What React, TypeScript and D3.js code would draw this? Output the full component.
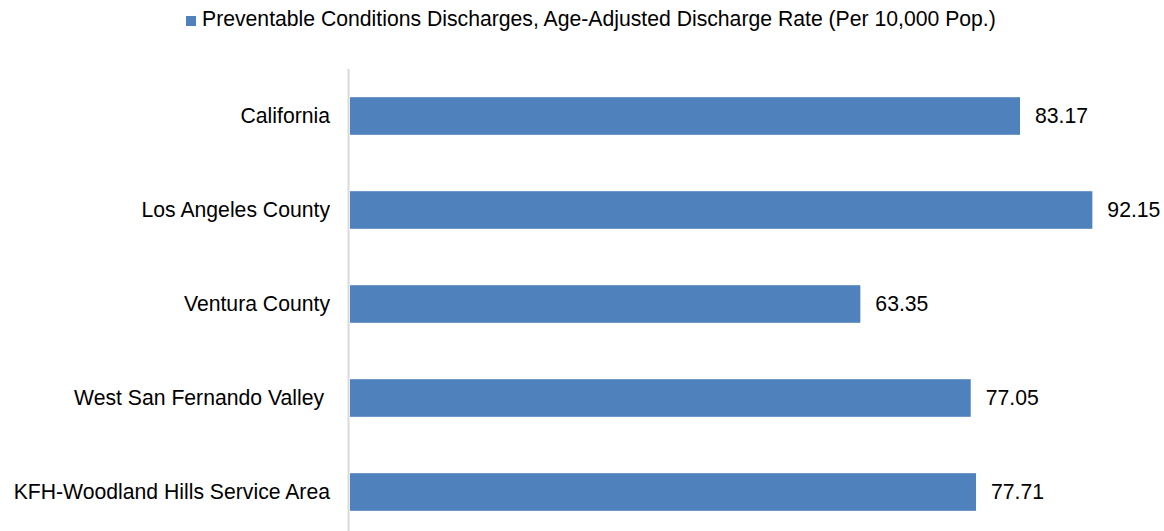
import React from "react";
import * as d3 from "d3";

const categories = [
  "California",
  "Los Angeles County",
  "Ventura County",
  "West San Fernando Valley ",
  "KFH-Woodland Hills Service Area",
];
const values = [83.17, 92.15, 63.35, 77.05, 77.71];
const seriesName =
  "Preventable Conditions Discharges, Age-Adjusted Discharge Rate (Per 10,000 Pop.)";

const W = 1164;
const H = 531;
const FONT = "Arial, 'Liberation Sans', sans-serif";
const FS = 21.2;

export default function App() {
  const x = d3.scaleLinear().domain([0, 100]).range([350, 1155.6]);
  const y = d3
    .scaleBand<string>()
    .domain(categories)
    .range([69, 539])
    .paddingInner(0.6)
    .paddingOuter(0.3);

  return (
    <svg
      width={W}
      height={H}
      style={{ position: "absolute", left: 0, top: 0, background: "#fff" }}
      fontFamily={FONT}
    >
      <rect x={186} y={16} width={10} height={10} fill="#4F81BD" />
      <text x={202} y={26} fontSize={FS} fill="#000">
        {seriesName}
      </text>
      {categories.map((c, i) => {
        const yy = y(c)!;
        const h = y.bandwidth();
        const cy = yy + h / 2;
        return (
          <g key={c}>
            <rect x={x(0)} y={yy} width={x(values[i]) - x(0)} height={h} fill="#4F81BD" />
            <text
              x={330}
              y={cy}
              dy="0.35em"
              textAnchor="end"
              fontSize={FS}
              fill="#000"
              style={{ whiteSpace: "pre" }}
            >
              {c}
            </text>
            <text x={x(values[i]) + 15} y={cy} dy="0.35em" fontSize={FS} fill="#000">
              {values[i].toFixed(2)}
            </text>
          </g>
        );
      })}
      <line x1={348.5} x2={348.5} y1={69} y2={H} stroke="#D9D9D9" strokeWidth={2} />
    </svg>
  );
}
